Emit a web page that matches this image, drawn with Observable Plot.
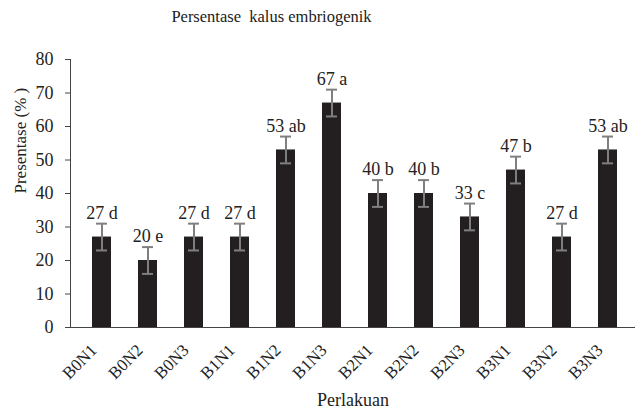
<!DOCTYPE html>
<html>
<head>
<meta charset="utf-8">
<script src="https://cdn.jsdelivr.net/npm/d3@7"></script>
<script src="https://cdn.jsdelivr.net/npm/@observablehq/plot@0.6"></script>
<style>
  html, body { margin: 0; padding: 0; background: #fff; }
  svg, svg text { font-family: "Liberation Serif", "Times New Roman", serif !important; }
</style>
</head>
<body>
<div id="chart"></div>
<script>
const categories = ["B0N1","B0N2","B0N3","B1N1","B1N2","B1N3","B2N1","B2N2","B2N3","B3N1","B3N2","B3N3"];
const values = [27, 20, 27, 27, 53, 67, 40, 40, 33, 47, 27, 53];
const letters = ["d","e","d","d","ab","a","b","b","c","b","d","ab"];
const errors = [4, 4, 4, 4, 4, 4, 4, 4, 4, 4, 4, 4];
const yTicks = [0, 10, 20, 30, 40, 50, 60, 70, 80];

const data = categories.map((c, i) => ({
  cat: c, v: values[i], lo: values[i] - errors[i], hi: values[i] + errors[i],
  label: values[i] + " " + letters[i]
}));

const font = "Liberation Serif";

const chart = Plot.plot({
  width: 637,
  height: 414,
  marginTop: 59,
  marginBottom: 87,
  marginLeft: 70,
  marginRight: 2,
  style: { fontFamily: font, fontSize: "18px", color: "#222", background: "#fff" },
  x: { domain: categories, paddingInner: 0.59, paddingOuter: 0.295, insetLeft: 4, label: null },
  y: { domain: [0, 80], label: null },
  marks: [
    Plot.barY(data, { x: "cat", y: "v", fill: "#231f20" }),
    Plot.ruleX(data, { x: "cat", y1: "lo", y2: "hi", stroke: "#7f7f7f", strokeWidth: 2 }),
    Plot.tickY(data, { x: "cat", y: "lo", stroke: "#7f7f7f", strokeWidth: 2, insetLeft: 4, insetRight: 4 }),
    Plot.tickY(data, { x: "cat", y: "hi", stroke: "#7f7f7f", strokeWidth: 2, insetLeft: 4, insetRight: 4 }),
    Plot.text(data, { x: "cat", y: "hi", text: "label", dy: -5, lineAnchor: "bottom", fontSize: 18, fill: "#222", fontFamily: font }),
    Plot.axisY({ ticks: yTicks, tickSize: 5, tickPadding: 12, fontSize: 18, stroke: "#444", label: null, fontFamily: font }),
    Plot.axisX({ tickSize: 0, tickPadding: 15, tickRotate: -45, fontSize: 17, label: null, fontFamily: font, dx: -8, dy: 5 }),
    Plot.frame({ anchor: "left", stroke: "#444" }),
    Plot.ruleY([0], { stroke: "#444", strokeWidth: 1.2 }),
    Plot.text(["Presentase (% )"], { frameAnchor: "left", rotate: -90, dx: -50, fontSize: 17, fill: "#222", fontFamily: font }),
    Plot.text(["Perlakuan"], { frameAnchor: "bottom", dy: 78, fontSize: 18, fill: "#222", fontFamily: font }),
    Plot.text(["Persentase\u00a0 kalus embriogenik"], { frameAnchor: "top-left", dx: 201, dy: -49, textAnchor: "middle", fontSize: 16.5, fill: "#222", fontFamily: font })
  ]
});
document.getElementById("chart").appendChild(chart);
</script>
</body>
</html>
